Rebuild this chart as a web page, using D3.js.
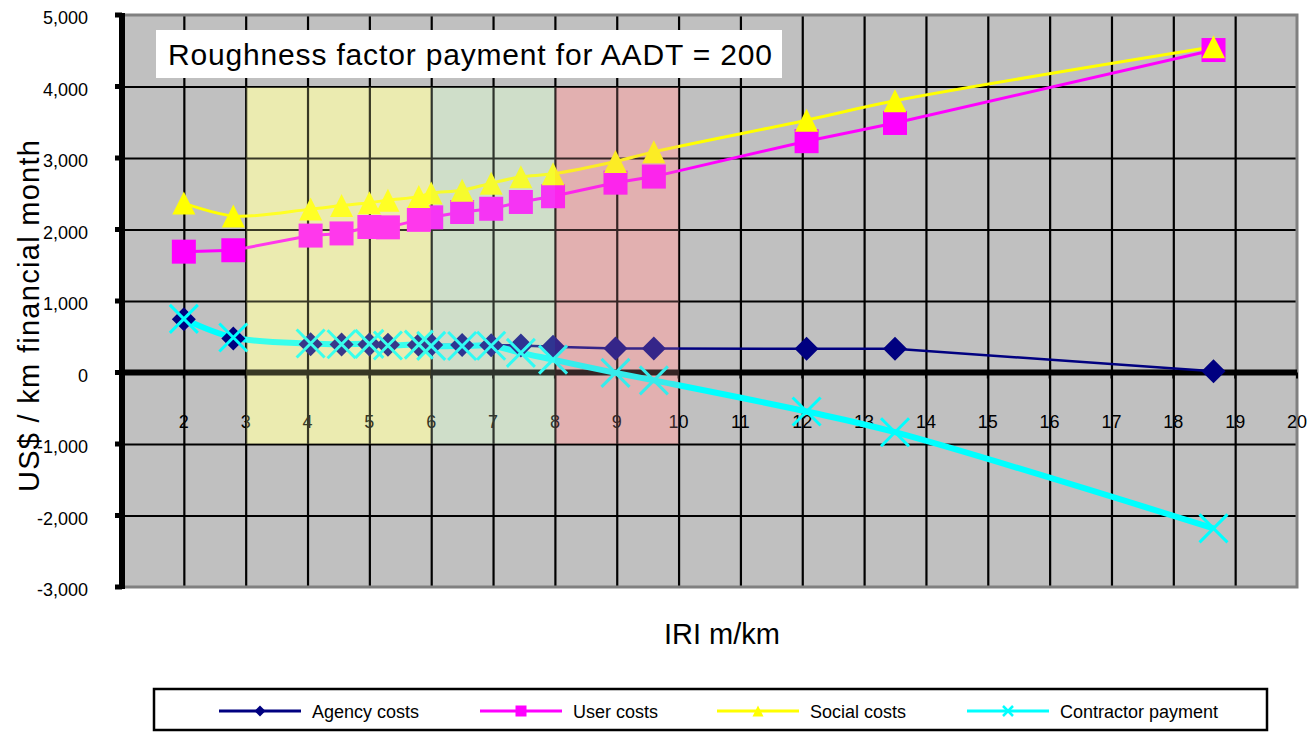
<!DOCTYPE html>
<html>
<head>
<meta charset="utf-8">
<script src="https://cdn.jsdelivr.net/npm/d3@7"></script>
<style>
  html, body { margin: 0; padding: 0; background: #ffffff; }
  svg { display: block; font-family: "Liberation Sans", Arial, sans-serif; }
</style>
</head>
<body>
<svg id="chart" width="1312" height="733"></svg>
<script>
// ---------------- data ----------------
const iri = [2.0, 2.8, 4.05, 4.55, 5.0, 5.3, 5.8, 6.0, 6.5, 6.97, 7.45, 7.97, 8.98, 9.6, 12.07, 13.5, 18.65];
const agencyCosts = [745, 475, 395, 390, 390, 388, 385, 385, 385, 382, 378, 360, 335, 335, 332, 332, 18];
const userCosts = [1690, 1710, 1915, 1945, 2035, 2030, 2135, 2170, 2245, 2290, 2385, 2465, 2655, 2740, 3235, 3490, 4510];
const socialCosts = [2370, 2190, 2285, 2335, 2375, 2410, 2460, 2510, 2550, 2648, 2737, 2779, 2951, 3086, 3529, 3800, 4555];
const contractorPayment = [750, 490, 405, 395, 400, 378, 390, 372, 370, 375, 275, 180, -5, -110, -545, -835, -2180];

const seriesNames = ["Agency costs", "User costs", "Social costs", "Contractor payment"];
const xTicks = [2, 3, 4, 5, 6, 7, 8, 9, 10, 11, 12, 13, 14, 15, 16, 17, 18, 19, 20];
const yTicks = [-3000, -2000, -1000, 0, 1000, 2000, 3000, 4000, 5000];
const zoneStart = [3, 6, 8];
const zoneEnd = [6, 8, 10];
const zoneTop = 4000;
const zoneBottom = -1000;
const chartTitle = "Roughness factor payment for AADT = 200";
const yTitle = "US$ / km financial month";
const xTitle = "IRI m/km";

// ---------------- layout ----------------
const svg = d3.select("#chart");
const L = 122, R = 1297, T = 15, B = 587;
const x = d3.scaleLinear().domain([1, 20]).range([L, R]);
const y = d3.scaleLinear().domain([-3000, 5000]).range([B, T]);

const colors = ["#000080", "#FF00FF", "#FFFF00", "#00FFFF"];
const zoneColors = ["#FFFFA8", "#D6EBCD", "#F2A9A9"];

// plot background
svg.append("rect").attr("x", L).attr("y", T).attr("width", R - L).attr("height", B - T).attr("fill", "#C0C0C0");

// shaded zones (under gridlines)
svg.append("g").selectAll("rect").data(zoneStart).join("rect")
  .attr("x", (d, i) => x(d)).attr("width", (d, i) => x(zoneEnd[i]) - x(d))
  .attr("y", y(zoneTop)).attr("height", y(zoneBottom) - y(zoneTop))
  .attr("fill", (d, i) => zoneColors[i])
  .attr("fill-opacity", 0.6)
  .attr("shape-rendering", "crispEdges");

// gridlines
const gx = d3.axisBottom(x).tickValues(xTicks.filter(v => v < 20)).tickSize(-(B - T)).tickFormat("");
svg.append("g").attr("transform", `translate(0,${B})`).call(gx)
  .call(g => g.select(".domain").remove())
  .call(g => g.selectAll("line").attr("stroke", "#000").attr("stroke-width", 2.2));
const gy = d3.axisLeft(y).tickValues(yTicks.filter(v => v > -3000 && v < 5000 && v !== 0)).tickSize(-(R - L)).tickFormat("");
svg.append("g").attr("transform", `translate(${L},0)`).call(gy)
  .call(g => g.select(".domain").remove())
  .call(g => g.selectAll("line").attr("stroke", "#000").attr("stroke-width", 2.2));

// plot border (gray)
svg.append("path")
  .attr("d", `M${L},${T}H${R}V${B}H${L}`)
  .attr("fill", "none").attr("stroke", "#808080").attr("stroke-width", 3);

// zero axis line with small ticks
svg.append("line").attr("x1", L).attr("x2", R).attr("y1", y(0)).attr("y2", y(0))
  .attr("stroke", "#000").attr("stroke-width", 6);
svg.append("g").selectAll("line").data(xTicks).join("line")
  .attr("x1", d => x(d)).attr("x2", d => x(d))
  .attr("y1", y(0)).attr("y2", y(0) + 6)
  .attr("stroke", "#000").attr("stroke-width", 2);

// x tick labels
svg.append("g").selectAll("text").data(xTicks).join("text")
  .attr("x", d => x(d)).attr("y", y(0) + 55)
  .attr("text-anchor", "middle").attr("font-size", 18).attr("fill", "#000")
  .text(d => d);

// left axis
svg.append("line").attr("x1", L).attr("x2", L).attr("y1", T - 2).attr("y2", B + 2)
  .attr("stroke", "#000").attr("stroke-width", 6);
svg.append("g").selectAll("rect").data(yTicks).join("rect")
  .attr("x", L - 7).attr("y", d => y(d) - 2.5).attr("width", 7).attr("height", 5).attr("fill", "#000");
svg.append("g").selectAll("text").data(yTicks).join("text")
  .attr("x", 88).attr("y", d => y(d) + 9)
  .attr("text-anchor", "end").attr("font-size", 18).attr("fill", "#000")
  .text(d => d3.format(",")(d).replace("\u2212", "-"));

// ---------------- series ----------------
const allSeries = [agencyCosts, userCosts, socialCosts, contractorPayment];
const curves = [d3.curveLinear, d3.curveLinear, d3.curveCatmullRom, d3.curveCatmullRom];
const widths = [2.6, 3, 3, 6];

const markerPath = [
  s => `M0,${-s}L${s},0L0,${s}L${-s},0Z`,
  s => `M${-s},${-s}H${s}V${s}H${-s}Z`,
  s => `M0,${-s}L${s},${s}L${-s},${s}Z`,
  s => `M${-s},${-s}L${s},${s}M${s},${-s}L${-s},${s}`
];
const markerSize = [12, 12, 11.5, 14];

allSeries.forEach((vals, i) => {
  const pts = iri.map((v, k) => [v, vals[k]]);
  const line = d3.line().x(d => x(d[0])).y(d => y(d[1])).curve(curves[i]);
  svg.append("path").datum(pts).attr("d", line)
    .attr("fill", "none").attr("stroke", colors[i]).attr("stroke-width", widths[i])
    .attr("stroke-linejoin", "round");
});
allSeries.forEach((vals, i) => {
  const pts = iri.map((v, k) => [v, vals[k]]);
  svg.append("g").selectAll("path").data(pts).join("path")
    .attr("transform", d => `translate(${x(d[0])},${y(d[1])})`)
    .attr("d", markerPath[i](markerSize[i]))
    .attr("fill", i === 3 ? "none" : colors[i])
    .attr("stroke", i === 3 ? colors[i] : "none")
    .attr("stroke-width", 3);
});

// light veil of zone colour over everything inside zones
svg.append("g").selectAll("rect").data(zoneStart).join("rect")
  .attr("x", (d, i) => x(d)).attr("width", (d, i) => x(zoneEnd[i]) - x(d))
  .attr("y", y(zoneTop)).attr("height", y(zoneBottom) - y(zoneTop))
  .attr("fill", (d, i) => zoneColors[i])
  .attr("fill-opacity", 0.22)
  .attr("shape-rendering", "crispEdges");

// title box
const titleG = svg.append("g");
titleG.append("rect").attr("x", 156).attr("y", 30).attr("width", 626).attr("height", 48).attr("fill", "#fff");
titleG.append("text").attr("x", 168).attr("y", 65).attr("font-size", 30).attr("fill", "#000")
  .attr("textLength", 604).attr("lengthAdjust", "spacing").text(chartTitle);

// axis titles
svg.append("text").attr("transform", `translate(39,316) rotate(-90)`)
  .attr("text-anchor", "middle").attr("font-size", 29).attr("fill", "#000")
  .attr("textLength", 352).attr("lengthAdjust", "spacing").text(yTitle);
svg.append("text").attr("x", 722).attr("y", 644)
  .attr("text-anchor", "middle").attr("font-size", 29).attr("fill", "#000").text(xTitle);

// legend
const legX = [219, 480, 717, 967];
svg.append("rect").attr("x", 154).attr("y", 689).attr("width", 1113).attr("height", 41)
  .attr("fill", "#fff").attr("stroke", "#000").attr("stroke-width", 2.5);
const legY = 711;
seriesNames.forEach((name, i) => {
  const g = svg.append("g");
  g.append("line").attr("x1", legX[i]).attr("x2", legX[i] + 82).attr("y1", legY).attr("y2", legY)
    .attr("stroke", colors[i]).attr("stroke-width", 3);
  g.append("path").attr("transform", `translate(${legX[i] + 41},${legY})`)
    .attr("d", markerPath[i](i === 3 ? 5 : 5.5))
    .attr("fill", i === 3 ? "none" : colors[i])
    .attr("stroke", i === 3 ? colors[i] : "none").attr("stroke-width", 2.5);
  g.append("text").attr("x", legX[i] + 93).attr("y", legY + 7)
    .attr("font-size", 18).attr("fill", "#000").text(name);
});
</script>
</body>
</html>
